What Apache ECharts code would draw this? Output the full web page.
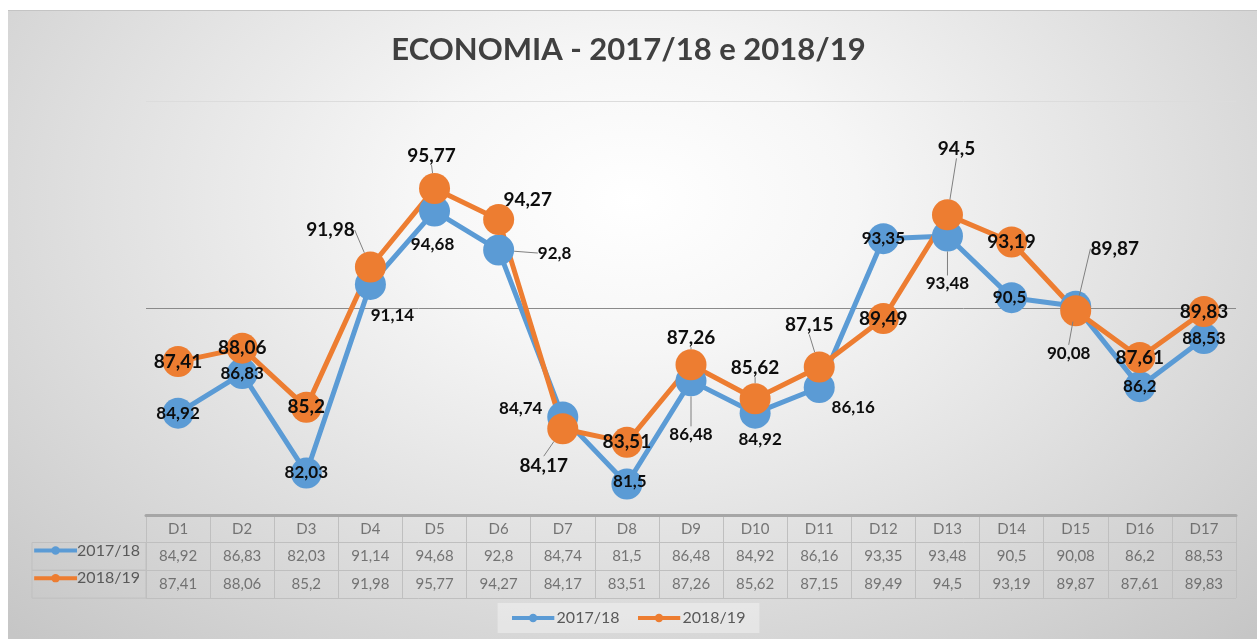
<!DOCTYPE html>
<html>
<head>
<meta charset="utf-8">
<script src="https://cdn.jsdelivr.net/npm/echarts@6/dist/echarts.min.js"></script>
<style>
html,body{margin:0;padding:0;background:#fff;overflow:hidden;}
#bg{position:absolute;left:8px;top:10px;width:1249px;height:629px;
background:radial-gradient(ellipse 72% 95% at 50% 30%, #ffffff 0%, #f6f6f6 25%, #e0e0e0 60%, #c6c6c6 100%);
border-top:1px solid #c4c4c4;}
#chart{position:absolute;left:0;top:0;width:1257px;height:639px;}
</style>
</head>
<body>
<div id="bg"></div>
<div id="chart"></div>
<script>
// ---- data ----
const titleText = 'ECONOMIA - 2017/18 e 2018/19';
const categories = ['D1','D2','D3','D4','D5','D6','D7','D8','D9','D10','D11','D12','D13','D14','D15','D16','D17'];
const seriesNames = ['2017/18', '2018/19'];
const values1718 = [84.92, 86.83, 82.03, 91.14, 94.68, 92.8, 84.74, 81.5, 86.48, 84.92, 86.16, 93.35, 93.48, 90.5, 90.08, 86.2, 88.53];
const values1819 = [87.41, 88.06, 85.2, 91.98, 95.77, 94.27, 84.17, 83.51, 87.26, 85.62, 87.15, 89.49, 94.5, 93.19, 89.87, 87.61, 89.83];
const yMin = 80, yMax = 100, yStep = 10;

// ---- label styling (offsets from the point, leader lines) ----
const blueOff = [[0,0],[0,0],[0,0],[22,31],[-2,33],[56,3],[-42,-8],[3,-2],[0,54],[5,26],[34,20],[0,0],[0,48],[-2,0],[-7,47],[0,0],[0,0]];
const blueLead = [0,0,0,0,0,1,0,0,1,0,0,0,1,0,1,0,0];
const orangeOff = [[0,0],[0,0],[0,0],[-40,-37],[-3,-33],[29,-20],[-19,37],[0,0],[0,-27],[0,-31],[-10,-42],[0,0],[9,-66],[0,0],[39,-62],[0,0],[0,0]];
const orangeLead = [0,0,0,1,1,0,1,0,1,1,1,0,1,0,1,0,0];

const BLUE = '#5B9BD5', ORANGE = '#ED7D31';
const FONT = 'Lato';
const fmt = v => String(v).replace('.', ',');

function iconSvg(color) {
  const s = '<svg xmlns="http://www.w3.org/2000/svg" width="43" height="10"><line x1="0" y1="5" x2="43" y2="5" stroke="' + color + '" stroke-width="4"/><circle cx="21.5" cy="5" r="4.2" fill="' + color + '"/></svg>';
  return 'data:image/svg+xml;charset=utf-8,' + encodeURIComponent(s);
}

function lineSeries(name, vals, color, offs, leads, fontSize) {
  return {
    name: name, type: 'line', xAxisIndex: 0, yAxisIndex: 0,
    data: vals.map((v, i) => ({ value: v, labelLine: { show: !!leads[i] } })),
    symbol: 'circle', symbolSize: 31, showAllSymbol: true,
    lineStyle: { width: 5, color: color }, itemStyle: { color: color },
    label: { show: true, position: 'inside', formatter: p => fmt(p.value),
      fontFamily: FONT, fontWeight: 'bold', fontSize: fontSize, color: '#0d0d0d' },
    labelLine: { show: false, showAbove: true, lineStyle: { color: '#7f7f7f', width: 1 } },
    labelLayout: p => ({ dx: offs[p.dataIndex][0], dy: offs[p.dataIndex][1] }),
    emphasis: { disabled: true }
  };
}

const tableCells = [];
categories.forEach((c, i) => {
  tableCells.push({ value: [i, 0], txt: c });
  tableCells.push({ value: [i, 1], txt: fmt(values1718[i]) });
  tableCells.push({ value: [i, 2], txt: fmt(values1819[i]) });
});

const chart = echarts.init(document.getElementById('chart'), null, { renderer: 'canvas' });
chart.setOption({
  animation: false,
  backgroundColor: 'transparent',
  title: { text: titleText, left: 'center', top: 29,
    textStyle: { fontFamily: FONT, fontSize: 31, fontWeight: 'bold', color: '#404040' } },
  legend: {
    data: [
      { name: seriesNames[0], icon: 'image://' + iconSvg(BLUE) },
      { name: seriesNames[1], icon: 'image://' + iconSvg(ORANGE) }
    ],
    left: 'center', top: 603, itemWidth: 43, itemHeight: 10, itemGap: 18,
    padding: [7, 14], backgroundColor: 'rgba(255,255,255,0.35)',
    textStyle: { fontFamily: FONT, fontSize: 16, color: '#595959', padding: [0, 0, 0, -3] } },
  grid: [
    { left: 146, right: 21, top: 101, bottom: 124 },
    { left: 146, right: 21, top: 515, height: 83 }
  ],
  xAxis: [
    { type: 'category', gridIndex: 0, data: categories, boundaryGap: true,
      axisLine: { show: true, lineStyle: { color: '#a6a6a6', width: 3 } },
      axisTick: { show: false }, axisLabel: { show: false }, splitLine: { show: false } },
    { type: 'category', gridIndex: 1, data: categories, boundaryGap: true,
      axisLine: { show: false }, axisTick: { show: false }, axisLabel: { show: false },
      splitLine: { show: true, lineStyle: { color: '#bfbfbf', width: 1 } } }
  ],
  yAxis: [
    { type: 'value', gridIndex: 0, min: yMin, max: yMax, interval: yStep,
      axisLine: { show: false }, axisTick: { show: false }, axisLabel: { show: false },
      splitLine: { show: true, lineStyle: { color: ['#a6a6a6', '#8a8a8a', '#dcdcdc'], width: 1 } } },
    { type: 'category', gridIndex: 1, inverse: true,
      data: [{ value: '', textStyle: { borderWidth: 0, width: 0 } }].concat(seriesNames),
      axisLine: { show: false }, axisTick: { show: false },
      splitLine: { show: true, lineStyle: { color: '#bfbfbf', width: 1 } },
      axisLabel: { interval: 0, margin: 0, width: 114, height: 28, align: 'right',
        borderColor: '#bfbfbf', borderWidth: 1,
        formatter: (v, idx) => idx === 0 ? '' : '{i' + idx + '|}{t|' + v + '}{sp|}',
        rich: {
          i1: { width: 43, height: 10, backgroundColor: { image: iconSvg(BLUE) } },
          i2: { width: 43, height: 10, backgroundColor: { image: iconSvg(ORANGE) } },
          t: { fontFamily: FONT, fontSize: 16, color: '#595959' },
          sp: { width: 6 }
        } } }
  ],
  series: [
    lineSeries(seriesNames[0], values1718, BLUE, blueOff, blueLead, 17),
    lineSeries(seriesNames[1], values1819, ORANGE, orangeOff, orangeLead, 19),
    { type: 'scatter', xAxisIndex: 1, yAxisIndex: 1, data: tableCells, symbolSize: 1,
      itemStyle: { color: 'rgba(0,0,0,0)' }, silent: true, legendHoverLink: false,
      label: { show: true, position: 'inside', formatter: p => p.data.txt,
        fontFamily: FONT, fontSize: 15, color: '#595959' } }
  ]
});
</script>
</body>
</html>
